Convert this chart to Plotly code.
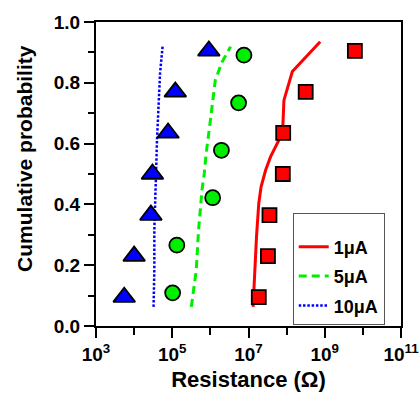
import plotly.graph_objects as go

# ---- data ----
# markers: log10(resistance) and cumulative probability
sq_logR = [7.27, 7.51, 7.55, 7.90, 7.91, 8.50, 9.79]
sq_prob = [0.095, 0.23, 0.365, 0.50, 0.635, 0.77, 0.905]

ci_logR = [5.01, 5.12, 6.06, 6.29, 6.74, 6.88]
ci_prob = [0.109, 0.266, 0.422, 0.578, 0.734, 0.891]

tr_logR = [3.74, 4.00, 4.44, 4.48, 4.89, 5.08, 5.96]
tr_prob = [0.095, 0.23, 0.365, 0.50, 0.635, 0.77, 0.905]

# lines
l1_logR = [7.12, 7.16, 7.21, 7.27, 7.33, 7.45, 7.58, 7.80, 7.90, 7.93, 8.15, 8.88]
l1_prob = [0.063, 0.184, 0.294, 0.404, 0.458, 0.513, 0.557, 0.612, 0.656, 0.743, 0.837, 0.935]

l5_logR = [5.50, 5.63, 5.69, 5.78, 5.84, 5.89, 5.98, 6.04, 6.13, 6.31, 6.53]
l5_prob = [0.063, 0.184, 0.316, 0.447, 0.502, 0.568, 0.656, 0.721, 0.809, 0.869, 0.919]

l10_logR = [4.51, 4.53, 4.53, 4.58, 4.58, 4.60, 4.64, 4.68, 4.75]
l10_prob = [0.063, 0.184, 0.316, 0.48, 0.524, 0.612, 0.721, 0.831, 0.924]

series_names = ["1μA", "5μA", "10μA"]
x_tick_exps = [3, 5, 7, 9, 11]
x_minor_exps = [4, 6, 8, 10]
y_ticks = [0.0, 0.2, 0.4, 0.6, 0.8, 1.0]

def tolin(v):
    return [10 ** e for e in v]

fig = go.Figure()

fig.add_trace(go.Scatter(x=tolin(l1_logR), y=l1_prob, mode="lines", name=series_names[0],
                         legendgroup="a", line=dict(color="#ff0000", width=3)))
fig.add_trace(go.Scatter(x=tolin(l5_logR), y=l5_prob, mode="lines", name=series_names[1],
                         legendgroup="b", line=dict(color="#00ee00", width=3, dash="8px,5px")))
fig.add_trace(go.Scatter(x=tolin(l10_logR), y=l10_prob, mode="lines", name=series_names[2],
                         legendgroup="c", line=dict(color="#0000ff", width=2.5, dash="2.5px,1.8px")))

fig.add_trace(go.Scatter(x=tolin(sq_logR), y=sq_prob, mode="markers", showlegend=False,
                         marker=dict(symbol="square", size=14, color="#ff0000",
                                     line=dict(color="black", width=1.8))))
fig.add_trace(go.Scatter(x=tolin(ci_logR), y=ci_prob, mode="markers", showlegend=False,
                         marker=dict(symbol="circle", size=15, color="#00ee00",
                                     line=dict(color="black", width=1.8))))
fig.add_trace(go.Scatter(x=tolin(tr_logR), y=tr_prob, mode="markers", showlegend=False,
                         marker=dict(symbol="triangle-up", size=19, color="#0000ff",
                                     line=dict(color="black", width=1.8))))

font_fam = "Liberation Sans, Arial, sans-serif"

fig.update_layout(
    width=419, height=400,
    margin=dict(l=96, r=18, t=22, b=74),
    paper_bgcolor="white", plot_bgcolor="white",
    font=dict(family=font_fam, color="black", size=19, weight="bold"),
    showlegend=True,
    legend=dict(x=0.645, y=0.371, xanchor="left", yanchor="top",
                bordercolor="#555555", borderwidth=1, bgcolor="white",
                font=dict(size=18, weight="bold"), tracegroupgap=3,
                itemwidth=30,
                title=dict(text=" ", font=dict(size=11))),
    xaxis=dict(type="log", range=[3, 11], automargin=False, ticklabeloverflow="allow",
               tickvals=[10 ** e for e in x_tick_exps],
               ticktext=[f"10<sup>{e}</sup>" for e in x_tick_exps],
               ticks="outside", ticklen=10, tickwidth=2, tickcolor="black",
               minor=dict(tickvals=[10 ** e for e in x_minor_exps], ticks="outside",
                          ticklen=7, tickwidth=2, tickcolor="black"),
               showline=True, linewidth=2, linecolor="black", mirror=True,
               showgrid=False, zeroline=False,
               title=dict(text="Resistance (Ω)", font=dict(size=22, weight="bold"), standoff=8)),
    yaxis=dict(range=[0, 1], tickvals=y_ticks, tickformat=".1f", automargin=False,
               ticklabeloverflow="allow",
               ticks="outside", ticklen=10, tickwidth=2, tickcolor="black",
               minor=dict(dtick=0.1, ticks="outside", ticklen=6, tickwidth=2, tickcolor="black"),
               showline=True, linewidth=2, linecolor="black", mirror=True,
               showgrid=False, zeroline=False),
    xaxis2=dict(type="log", range=[3, 11], overlaying="x", side="top", anchor="y",
                automargin=False,
                tickvals=[10 ** e for e in x_tick_exps + x_minor_exps],
                ticks="inside", ticklen=8, tickwidth=2, tickcolor="black",
                showticklabels=False, showgrid=False, zeroline=False, showline=False),
    yaxis2=dict(range=[0, 1], overlaying="y", side="right", anchor="x",
                automargin=False, dtick=0.1, tick0=0,
                ticks="inside", ticklen=9, tickwidth=2, tickcolor="black",
                showticklabels=False, showgrid=False, zeroline=False, showline=False),
    annotations=[dict(text="Cumulative probability", textangle=-90,
                      xref="paper", yref="paper", x=-0.237, y=0.552,
                      xanchor="center", yanchor="middle", showarrow=False,
                      font=dict(size=21, weight="bold"))],
)

fig.write_html("out.html")
